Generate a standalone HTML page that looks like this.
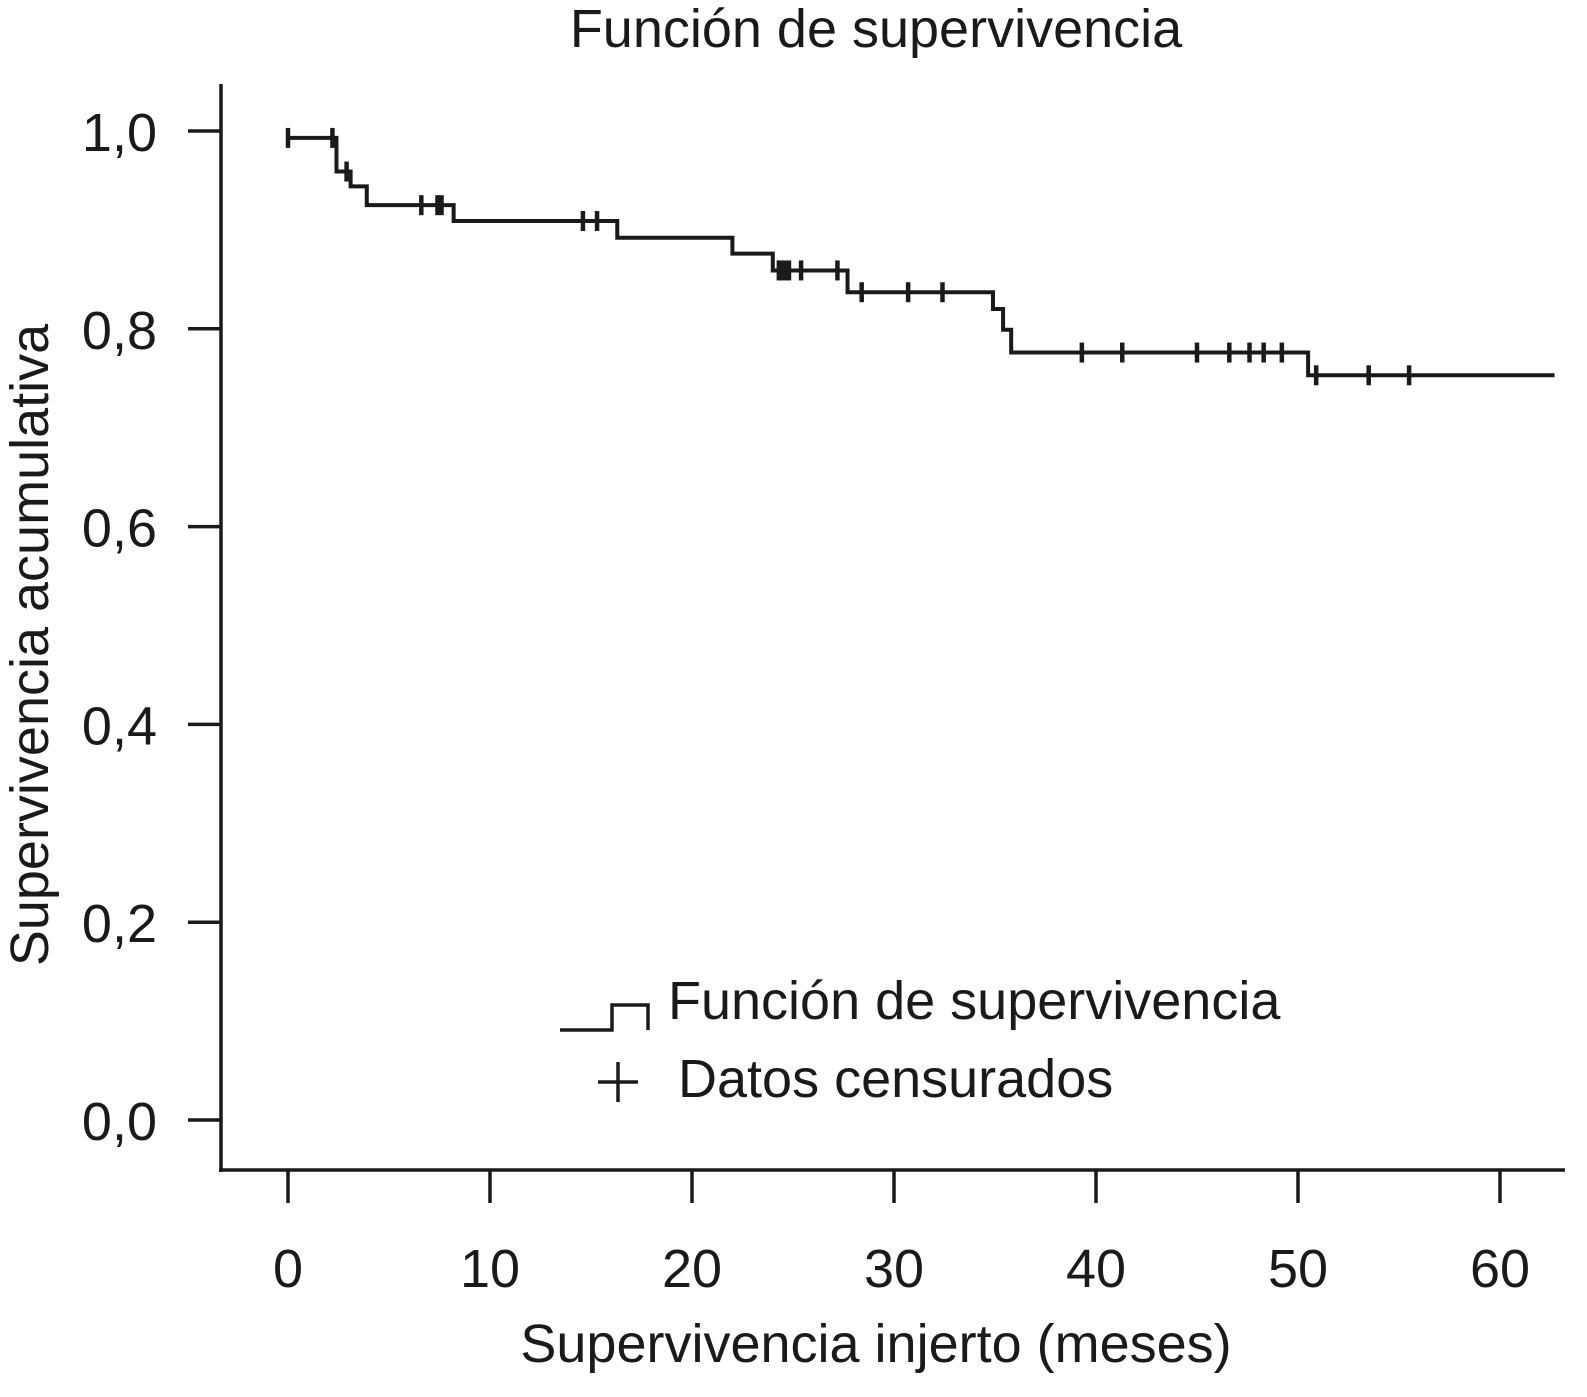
<!DOCTYPE html>
<html><head><meta charset="utf-8"><style>
body{margin:0;background:#fff}
svg{display:block}
text{font-family:"Liberation Sans",sans-serif;fill:#1a1a1a}
</style></head><body>
<svg id="chart" width="1587" height="1397" viewBox="0 0 1587 1397" xmlns="http://www.w3.org/2000/svg">
<text x="876" y="47" font-size="54" text-anchor="middle">Función de supervivencia</text>
<text transform="translate(48,645) rotate(-90)" font-size="54" text-anchor="middle">Supervivencia acumulativa</text>
<text x="876" y="1362" font-size="54" text-anchor="middle">Supervivencia injerto (meses)</text>
<line x1="221" y1="84" x2="221" y2="1172" stroke="#1a1a1a" stroke-width="3.5"/>
<line x1="219" y1="1170" x2="1565" y2="1170" stroke="#1a1a1a" stroke-width="3.5"/>
<g id="ticks"></g>
<path id="curve" fill="none" stroke="#1a1a1a" stroke-width="4"/>
<g id="censors"></g>
<g>
<path d="M560 1030 H612 V1005 H648 V1030" fill="none" stroke="#1a1a1a" stroke-width="3.5"/>
<text x="668" y="1019" font-size="54">Función de supervivencia</text>
<path d="M598 1082 H638 M618 1062 V1102" stroke="#1a1a1a" stroke-width="3.5"/>
<text x="678" y="1097" font-size="54">Datos censurados</text>
</g>
</svg>
<script>
const eventTimes=[2.4,3.1,3.9,8.2,16.3,22.0,24.0,27.7,34.9,35.4,35.8,50.5];
const survival=[0.993,0.959,0.944,0.925,0.909,0.892,0.876,0.859,0.837,0.820,0.799,0.776,0.753];
const censorTimes=[0,2.2,2.9,6.6,7.4,7.6,14.6,15.3,24.3,24.4,24.6,24.8,25.4,27.2,28.4,30.7,32.4,39.3,41.3,45.0,46.6,47.6,48.3,49.2,50.9,53.5,55.5];
const xTicks=[0,10,20,30,40,50,60];
const yTicks=[0,0.2,0.4,0.6,0.8,1.0];
const xMax=62.7;
const NS="http://www.w3.org/2000/svg";
const sx=t=>288+t*20.2;
const sy=s=>1120-s*989;
function sAt(t){let s=survival[0];for(let i=0;i<eventTimes.length;i++){if(eventTimes[i]<=t)s=survival[i+1];}return s;}
let d="M"+sx(0)+" "+sy(survival[0]);
for(let i=0;i<eventTimes.length;i++){d+=" H"+sx(eventTimes[i])+" V"+sy(survival[i+1]);}
d+=" H"+sx(xMax);
document.getElementById('curve').setAttribute('d',d);
const cg=document.getElementById('censors');
censorTimes.forEach(t=>{
 const l=document.createElementNS(NS,'line');
 
 
 const x=sx(t),y=sy(sAt(t));
 l.setAttribute('x1',x);l.setAttribute('x2',x);l.setAttribute('y1',y-10);l.setAttribute('y2',y+10);
 l.setAttribute('stroke','#1a1a1a');l.setAttribute('stroke-width','4.5');
 cg.appendChild(l);
});
const tg=document.getElementById('ticks');
xTicks.forEach(v=>{
 const l=document.createElementNS(NS,'line');
 
 
 l.setAttribute('x1',sx(v));l.setAttribute('x2',sx(v));l.setAttribute('y1',1170);l.setAttribute('y2',1203);
 l.setAttribute('stroke','#1a1a1a');l.setAttribute('stroke-width','3.5');
 tg.appendChild(l);
 const t=document.createElementNS(NS,'text');
 
 
 t.setAttribute('x',sx(v));t.setAttribute('y',1287);t.setAttribute('font-size','54');t.setAttribute('text-anchor','middle');
 t.textContent=String(v);
 tg.appendChild(t);
});
yTicks.forEach(v=>{
 const l=document.createElementNS(NS,'line');
 
 
 l.setAttribute('x1',188);l.setAttribute('x2',221);l.setAttribute('y1',sy(v));l.setAttribute('y2',sy(v));
 l.setAttribute('stroke','#1a1a1a');l.setAttribute('stroke-width','3.5');
 tg.appendChild(l);
 const t=document.createElementNS(NS,'text');
 
 
 t.setAttribute('x',157);t.setAttribute('y',sy(v)+20);t.setAttribute('font-size','54');t.setAttribute('text-anchor','end');
 t.textContent=v.toFixed(1).replace('.',',');
 tg.appendChild(t);
});
</script>
</body></html>
